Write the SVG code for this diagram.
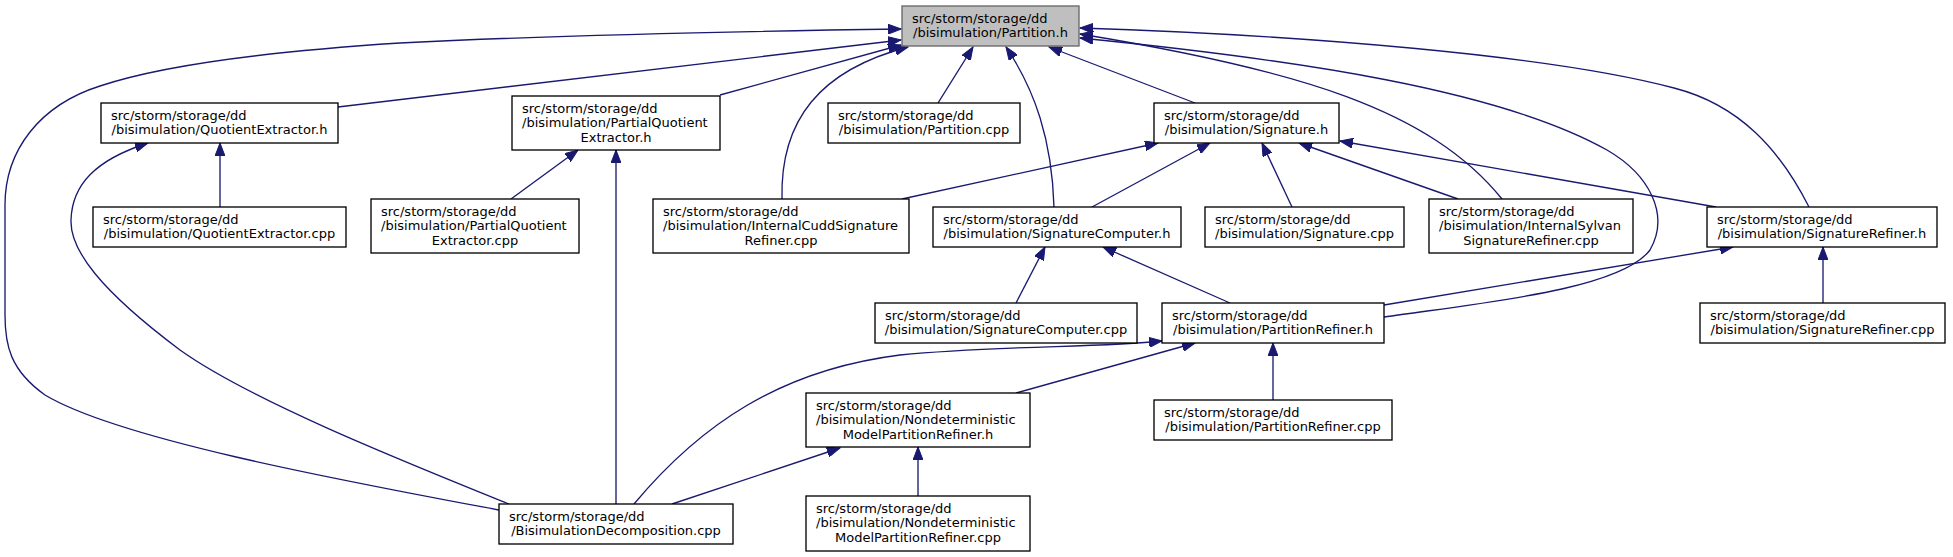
<svg xmlns="http://www.w3.org/2000/svg" width="1953" height="557" viewBox="0 0 1953 557">
<style>
.n rect{fill:#ffffff;stroke:#000000;stroke-width:1.33}
#n_partition_h rect{fill:#bfbfbf;stroke:#666666}
.n text{font-family:"DejaVu Sans",sans-serif;font-size:13px;fill:#000000}
.n .c{text-anchor:middle}
#edges path{fill:none;stroke:#191970;stroke-width:1.33;marker-end:url(#ah)}
</style>
<defs>
<marker id="ah" markerUnits="userSpaceOnUse" markerWidth="14" markerHeight="10" refX="13" refY="5" orient="auto" viewBox="0 0 14 10">
<path d="M0,0 L13,5 L0,10 z" fill="#191970" stroke="#191970" stroke-width="1"/>
</marker>
</defs>
<rect width="1953" height="557" fill="#ffffff"/>
<g id="edges">
<path d="M499,510 C350,482 120,440 45,395 C10,370 5,345 5,315 L5,205 C5,150 40,105 100,86 C160,66 260,52 400,43 C560,35 760,31 901,29"/>
<path d="M338,107 L901,40"/>
<path d="M720,95 L901,45"/>
<path d="M782,199 C780,120 820,70 908,47"/>
<path d="M938,103 L973,47"/>
<path d="M1054,207 C1052,140 1035,90 1006,47"/>
<path d="M1195,103 L1049,47"/>
<path d="M1502,199 C1430,110 1300,70 1080,34"/>
<path d="M1384,317 C1480,303 1620,290 1650,250 C1670,215 1650,175 1607,150 C1500,90 1300,60 1080,38"/>
<path d="M1809,207 C1780,150 1740,105 1674,88 C1550,55 1300,35 1080,28"/>
<path d="M902,199 L1158,143"/>
<path d="M1092,207 L1210,143"/>
<path d="M1292,207 L1262,143"/>
<path d="M1458,199 L1299,143"/>
<path d="M1716,207 L1340,141"/>
<path d="M1016,303 L1045,247"/>
<path d="M1230,303 L1103,247"/>
<path d="M1823,303 L1823,247"/>
<path d="M1384,305 L1733,247"/>
<path d="M220,207 L220,143"/>
<path d="M509,504 C400,460 250,400 180,350 C100,290 70,250 71,220 C72,185 95,160 148,143"/>
<path d="M511,199 L578,150"/>
<path d="M616,504 L616,150"/>
<path d="M1273,400 L1273,343"/>
<path d="M1016,393 L1195,343"/>
<path d="M634,504 C700,425 780,370 900,355 C1000,345 1100,348 1162,341"/>
<path d="M918,496 L918,447"/>
<path d="M672,504 L840,448"/>
</g>
<g id="n_partition_h" class="n"><rect x="902" y="6" width="177" height="40"/><text x="912" y="22.5">src/storm/storage/dd</text><text class="c" x="990.5" y="37.2">/bisimulation/Partition.h</text></g>
<g id="n_quotientextractor_h" class="n"><rect x="101" y="103" width="237" height="40"/><text x="111" y="119.5">src/storm/storage/dd</text><text class="c" x="219.5" y="134.2">/bisimulation/QuotientExtractor.h</text></g>
<g id="n_partialquotientextractor_h" class="n"><rect x="512" y="96" width="208" height="54"/><text x="522" y="112.5">src/storm/storage/dd</text><text x="522" y="127.2">/bisimulation/PartialQuotient</text><text class="c" x="616" y="141.9">Extractor.h</text></g>
<g id="n_partition_cpp" class="n"><rect x="828" y="103" width="192" height="40"/><text x="838" y="119.5">src/storm/storage/dd</text><text class="c" x="924" y="134.2">/bisimulation/Partition.cpp</text></g>
<g id="n_signature_h" class="n"><rect x="1154" y="103" width="185" height="40"/><text x="1164" y="119.5">src/storm/storage/dd</text><text class="c" x="1246.5" y="134.2">/bisimulation/Signature.h</text></g>
<g id="n_quotientextractor_cpp" class="n"><rect x="93" y="207" width="253" height="40"/><text x="103" y="223.5">src/storm/storage/dd</text><text class="c" x="219.5" y="238.2">/bisimulation/QuotientExtractor.cpp</text></g>
<g id="n_partialquotientextractor_cpp" class="n"><rect x="371" y="199" width="208" height="54"/><text x="381" y="215.5">src/storm/storage/dd</text><text x="381" y="230.2">/bisimulation/PartialQuotient</text><text class="c" x="475" y="244.9">Extractor.cpp</text></g>
<g id="n_internalcudd_cpp" class="n"><rect x="653" y="199" width="256" height="54"/><text x="663" y="215.5">src/storm/storage/dd</text><text x="663" y="230.2">/bisimulation/InternalCuddSignature</text><text class="c" x="781" y="244.9">Refiner.cpp</text></g>
<g id="n_signaturecomputer_h" class="n"><rect x="933" y="207" width="248" height="40"/><text x="943" y="223.5">src/storm/storage/dd</text><text class="c" x="1057" y="238.2">/bisimulation/SignatureComputer.h</text></g>
<g id="n_signature_cpp" class="n"><rect x="1205" y="207" width="199" height="40"/><text x="1215" y="223.5">src/storm/storage/dd</text><text class="c" x="1304.5" y="238.2">/bisimulation/Signature.cpp</text></g>
<g id="n_internalsylvan_cpp" class="n"><rect x="1429" y="199" width="204" height="54"/><text x="1439" y="215.5">src/storm/storage/dd</text><text x="1439" y="230.2">/bisimulation/InternalSylvan</text><text class="c" x="1531" y="244.9">SignatureRefiner.cpp</text></g>
<g id="n_signaturerefiner_h" class="n"><rect x="1707" y="207" width="230" height="40"/><text x="1717" y="223.5">src/storm/storage/dd</text><text class="c" x="1822" y="238.2">/bisimulation/SignatureRefiner.h</text></g>
<g id="n_signaturecomputer_cpp" class="n"><rect x="875" y="303" width="262" height="40"/><text x="885" y="319.5">src/storm/storage/dd</text><text class="c" x="1006" y="334.2">/bisimulation/SignatureComputer.cpp</text></g>
<g id="n_partitionrefiner_h" class="n"><rect x="1162" y="303" width="222" height="40"/><text x="1172" y="319.5">src/storm/storage/dd</text><text class="c" x="1273" y="334.2">/bisimulation/PartitionRefiner.h</text></g>
<g id="n_signaturerefiner_cpp" class="n"><rect x="1700" y="303" width="245" height="40"/><text x="1710" y="319.5">src/storm/storage/dd</text><text class="c" x="1822.5" y="334.2">/bisimulation/SignatureRefiner.cpp</text></g>
<g id="n_nondet_h" class="n"><rect x="806" y="393" width="224" height="54"/><text x="816" y="409.5">src/storm/storage/dd</text><text x="816" y="424.2">/bisimulation/Nondeterministic</text><text class="c" x="918" y="438.9">ModelPartitionRefiner.h</text></g>
<g id="n_partitionrefiner_cpp" class="n"><rect x="1154" y="400" width="238" height="40"/><text x="1164" y="416.5">src/storm/storage/dd</text><text class="c" x="1273" y="431.2">/bisimulation/PartitionRefiner.cpp</text></g>
<g id="n_bisimulationdecomposition_cpp" class="n"><rect x="499" y="504" width="234" height="40"/><text x="509" y="520.5">src/storm/storage/dd</text><text class="c" x="616" y="535.2">/BisimulationDecomposition.cpp</text></g>
<g id="n_nondet_cpp" class="n"><rect x="806" y="496" width="224" height="55"/><text x="816" y="512.5">src/storm/storage/dd</text><text x="816" y="527.2">/bisimulation/Nondeterministic</text><text class="c" x="918" y="541.9">ModelPartitionRefiner.cpp</text></g>
</svg>
